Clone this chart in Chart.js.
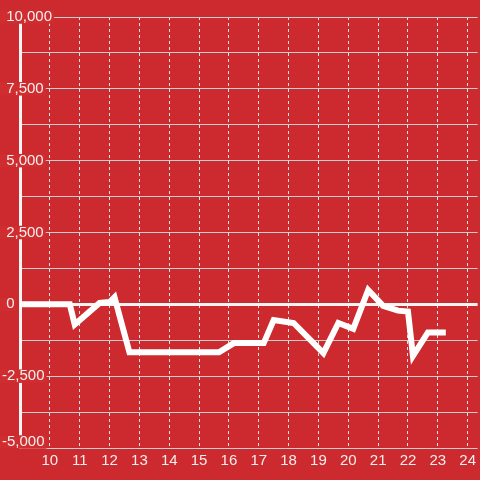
<!DOCTYPE html>
<html><head><meta charset="utf-8">
<script src="https://cdn.jsdelivr.net/npm/chart.js@4"></script>
<style>
html,body{margin:0;padding:0;background:#cc2a2e;}
canvas{display:block;}
</style></head><body>
<canvas id="c" width="480" height="480"></canvas>
<script>
// hours of day (x) and values (y)
const hours  = [9, 10.667, 10.833, 11.667, 12, 12.167, 12.667, 15.667, 16.167, 17.167, 17.5, 18.167, 19.167, 19.667, 20.167, 20.667, 21.167, 21.667, 22, 22.167, 22.667, 23.167];
const values = [0, 0, -700, 50, 80, 250, -1670, -1670, -1350, -1350, -550, -650, -1700, -650, -850, 500, -50, -220, -250, -1800, -980, -980];
const xTicks = [10, 11, 12, 13, 14, 15, 16, 17, 18, 19, 20, 21, 22, 23, 24];
const yTicks = [-5000, -3750, -2500, -1250, 0, 1250, 2500, 3750, 5000, 6250, 7500, 8750, 10000];
const yLabelled = [-5000, -2500, 0, 2500, 5000, 7500, 10000];

const FONT = 'Liberation Sans';
const TEXT = '#f4eeee';

// lift the lowest y label a little above its grid line (as in the reference)
const liftBottomLabel = {
  id: 'liftBottomLabel',
  beforeDraw(chart) {
    const s = chart.scales.y;
    const items = s.getLabelItems(chart.chartArea);
    items.forEach(it => {
      if (it.label === yTicks[0].toLocaleString('en-US')) it.options.translation[1] -= 6;
    });
  }
};

new Chart(document.getElementById('c'), {
  type: 'line',
  data: {
    datasets: [{
      data: hours.map((h, i) => ({ x: h, y: values[i] })),
      borderColor: '#ffffff',
      borderWidth: 6,
      borderCapStyle: 'square',
      borderJoinStyle: 'miter',
      pointRadius: 0,
      tension: 0,
      fill: false
    }]
  },
  plugins: [liftBottomLabel],
  options: {
    responsive: false,
    animation: false,
    layout: { padding: { top: 17, left: 2, right: 0, bottom: 6 } },
    plugins: { legend: { display: false }, tooltip: { enabled: false } },
    scales: {
      x: {
        type: 'linear', min: 9, max: 24.333,
        afterBuildTicks: s => { s.ticks = xTicks.map(v => ({ value: v })); },
        grid: { color: '#e2e2e2', lineWidth: 1, drawTicks: false },
        border: { display: false, dash: [3, 3] },
        ticks: { color: TEXT, font: { family: FONT, size: 15 }, padding: 4, maxRotation: 0, autoSkip: false }
      },
      y: {
        position: 'left', min: -5000, max: 10000,
        afterBuildTicks: s => { s.ticks = yTicks.map(v => ({ value: v })); },
        afterFit: s => { s.width = 18; },
        grid: {
          color: c => (c.tick && c.tick.value === 0) ? '#f4f4f4' : '#cdcdcd',
          lineWidth: c => (c.tick && c.tick.value === 0) ? 3 : 1,
          drawTicks: false
        },
        border: { display: true, color: '#f6f6f6', width: 3 },
        ticks: {
          mirror: true, crossAlign: 'near', padding: -18, autoSkip: false,
          color: TEXT, font: { family: FONT, size: 15, lineHeight: 0.9 },
          showLabelBackdrop: c => yLabelled.includes(c.tick.value),
          backdropColor: '#d02d30',
          backdropPadding: { top: 0, bottom: 0, left: 2, right: 2 },
          callback: v => {
            if (!yLabelled.includes(v)) return '';
            const s = v.toLocaleString('en-US');
            return v < 0 ? s : ' ' + s;
          }
        }
      }
    }
  }
});
</script>
</body></html>
